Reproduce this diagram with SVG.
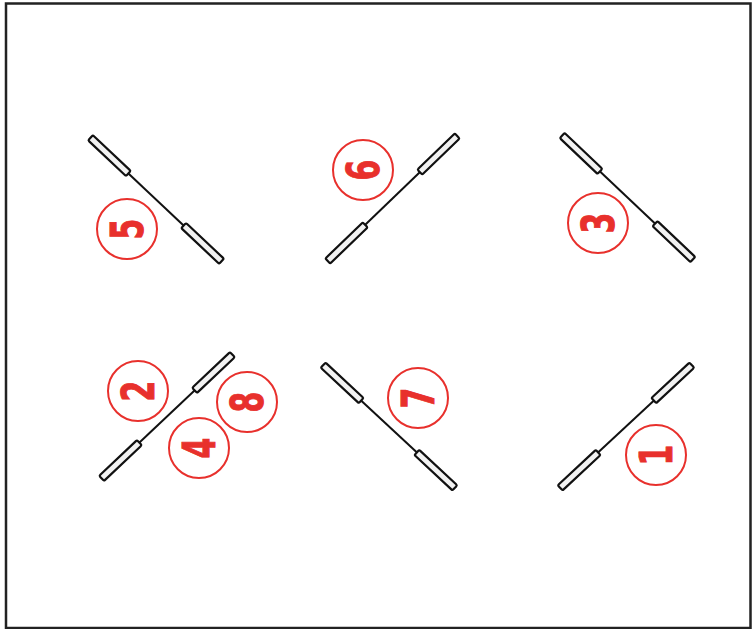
<svg xmlns="http://www.w3.org/2000/svg" xmlns:xlink="http://www.w3.org/1999/xlink" width="755" height="629" viewBox="0 0 755 629">
<style>
.body{fill:#f2f2f2;stroke:#111;stroke-width:2.2}
.wire{stroke:#111;stroke-width:2}
.tag circle{fill:none;stroke:#e8302c;stroke-width:2}
.tag text{fill:#e8302c;stroke:#e8302c;stroke-width:1;font-family:"DejaVu Sans",sans-serif;font-weight:bold;font-size:44px;text-anchor:middle}
</style>
<defs>
<g id="comp">
<line class="wire" x1="-39" y1="0" x2="39" y2="0"/>
<rect class="body" x="-90" y="-3.5" width="52" height="7" rx="1.5"/>
<rect class="body" x="38" y="-3.5" width="52" height="7" rx="1.5"/>
</g>
</defs>
<rect x="6" y="3.5" width="744.5" height="624.5" fill="#fff" stroke="#222" stroke-width="2.5"/>
<g id="components">
<g id="c5"><use xlink:href="#comp" transform="translate(156,199.5) rotate(43.3)"/></g>
<g id="c6"><use xlink:href="#comp" transform="translate(392.5,198.5) rotate(-44)"/></g>
<g id="c3"><use xlink:href="#comp" transform="translate(627.5,197.5) rotate(43.5)"/></g>
<g id="c2"><use xlink:href="#comp" transform="translate(167,416.5) rotate(-43.4)"/></g>
<g id="c7"><use xlink:href="#comp" transform="translate(389,426.5) rotate(43)"/></g>
<g id="c1"><use xlink:href="#comp" transform="translate(626,426.5) rotate(-43)"/></g>
</g>
<g id="tag5" class="tag"><circle cx="127" cy="229" r="30"/><text transform="translate(127,229) rotate(-90) scale(0.68,1)" y="16">5</text></g>
<g id="tag6" class="tag"><circle cx="363" cy="170" r="30"/><text transform="translate(363,170) rotate(-90) scale(0.68,1)" y="16">6</text></g>
<g id="tag3" class="tag"><circle cx="598" cy="223" r="30"/><text transform="translate(598,223) rotate(-90) scale(0.68,1)" y="16">3</text></g>
<g id="tag2" class="tag"><circle cx="138" cy="391" r="30"/><text transform="translate(138,391) rotate(-90) scale(0.68,1)" y="16">2</text></g>
<g id="tag4" class="tag"><circle cx="199" cy="448" r="30"/><text transform="translate(199,448) rotate(-90) scale(0.68,1)" y="16">4</text></g>
<g id="tag8" class="tag"><circle cx="247" cy="402" r="30"/><text transform="translate(247,402) rotate(-90) scale(0.68,1)" y="16">8</text></g>
<g id="tag7" class="tag"><circle cx="418" cy="398" r="30"/><text transform="translate(418,398) rotate(-90) scale(0.68,1)" y="16">7</text></g>
<g id="tag1" class="tag"><circle cx="656" cy="455" r="30"/><text transform="translate(656,455) rotate(-90) scale(0.68,1)" y="16">1</text></g>
</svg>
